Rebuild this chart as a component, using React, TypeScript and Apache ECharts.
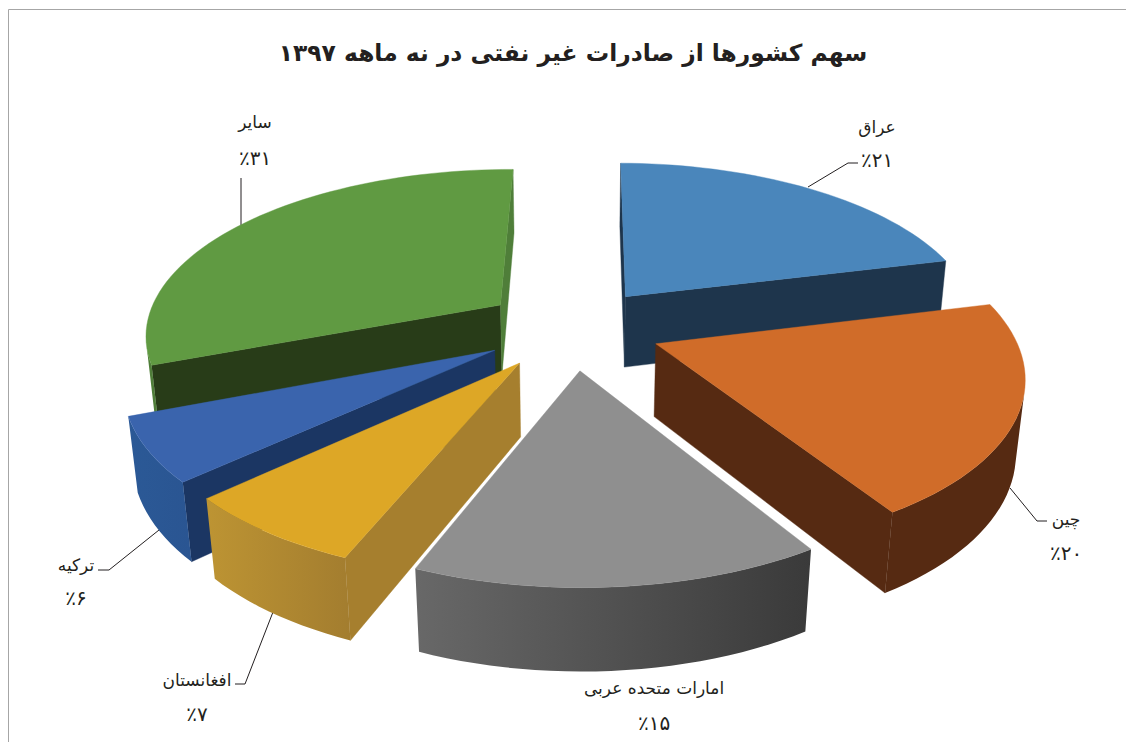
import React, { useEffect, useRef } from "react";
import * as echarts from "echarts";

const titleText = "سهم کشورها از صادرات غیر نفتی در نه ماهه ۱۳۹۷";
const categories = ["عراق", "چین", "امارات متحده عربی", "افغانستان", "ترکیه", "سایر"];
const shares = [21, 20, 15, 7, 6, 31];
const shareLabels = ["٪۲۱", "٪۲۰", "٪۱۵", "٪۷", "٪۶", "٪۳۱"];
const topColors = ["#4a86bb", "#d06c29", "#8f8f8f", "#dda726", "#3a64ad", "#609a42"];
const outerLeft = ["#1e354c", "#562a12", "#686868", "#bd9433", "#2b5996", "#4f7e39"];
const outerRight = ["#1e354c", "#562a12", "#3a3a3a", "#a37d2f", "#2a5592", "#4f7e39"];
const startWall = ["#1e354c", "#562a12", "#3a3a3a", "#a67f2e", "#1b3663", "#283c18"];
const endWall = ["#1e354c", "#562a12", "#3a3a3a", "#a67f2e", "#1b3663", "#4f7e39"];
const paintOrder = [5, 0, 4, 1, 3, 2];

// Projection settings of the tilted, exploded pie
const CX = 572;
const CY = 328;
const A = 356;
const B = 165;
const K = 0.165;
const C = 73.5;
const M = 0.02;
const EXPLODE = 0.25;
const ROTATE = (0.5 / 180) * Math.PI;

const labelPlace = [
  { x: 877, y: 127, y2: 160, line: [[808, 187], [848, 163], [858, 163]] },
  { x: 1066, y: 519, y2: 553, line: [[1010, 488], [1037, 521], [1047, 521]] },
  { x: 654, y: 688, y2: 723, line: null },
  { x: 197, y: 680, y2: 714, line: [[273, 612], [245, 684], [235, 684]] },
  { x: 76, y: 565, y2: 598, line: [[159, 530], [109, 570], [98, 570]] },
  { x: 255, y: 122, y2: 158, line: [[241, 178], [241, 225]] },
];
const FONT = "'DejaVu Sans'";

const cumulative = shares.map((_, i) => shares.slice(0, i).reduce((a, b) => a + b, 0));

function project(X: number, Y: number, z: number) {
  const w = 1 + K * Y + M * z;
  return [CX + (A * X) / w, CY + (-B * Y + C * z) / w];
}

function wallVisible(p: number[], q: number[], pb: number[]) {
  return (q[0] - p[0]) * (pb[1] - p[1]) - (q[1] - p[1]) * (pb[0] - p[0]) < 0;
}

function renderItem(_params: any, api: any) {
  const i = api.value(0) as number;
  const share = api.value(1) as number;
  const from = ((api.value(2) as number) / 100) * Math.PI * 2 + ROTATE;
  const sweep = (share / 100) * Math.PI * 2;
  const mid = from + sweep / 2;
  const ox = EXPLODE * Math.sin(mid);
  const oy = EXPLODE * Math.cos(mid);
  const steps = Math.max(6, Math.ceil(sweep / (Math.PI / 90)));
  const rimTop: number[][] = [];
  const rimBottom: number[][] = [];
  for (let s = 0; s <= steps; s++) {
    const a = from + (sweep * s) / steps;
    const X = ox + Math.sin(a);
    const Y = oy + Math.cos(a);
    rimTop.push(project(X, Y, 0));
    rimBottom.push(project(X, Y, 1));
  }
  const apexTop = project(ox, oy, 0);
  const apexBottom = project(ox, oy, 1);
  const children: any[] = [];
  const poly = (pts: number[][], fill: any, stroke: any) => ({
    type: "polygon",
    shape: { points: pts },
    style: { fill, stroke, lineWidth: 0.4 },
    silent: true,
  });
  if (wallVisible(apexTop, rimTop[0], apexBottom)) {
    children.push(poly([apexTop, rimTop[0], rimBottom[0], apexBottom], startWall[i], startWall[i]));
  }
  if (wallVisible(rimTop[steps], apexTop, rimBottom[steps])) {
    children.push(poly([rimTop[steps], apexTop, apexBottom, rimBottom[steps]], endWall[i], endWall[i]));
  }
  // outer wall: visible run of the rim as a single polygon with a horizontal gradient
  const upper: number[][] = [];
  const lower: number[][] = [];
  for (let s = 0; s < steps; s++) {
    if (!wallVisible(rimTop[s], rimTop[s + 1], rimBottom[s])) continue;
    if (!upper.length) {
      upper.push(rimTop[s]);
      lower.push(rimBottom[s]);
    }
    upper.push(rimTop[s + 1]);
    lower.push(rimBottom[s + 1]);
  }
  if (upper.length) {
    const grad = new echarts.graphic.LinearGradient(0, 0, 1, 0, [
      { offset: 0, color: outerLeft[i] },
      { offset: 1, color: outerRight[i] },
    ]);
    children.push(poly([...upper, ...lower.reverse()], grad, "none"));
  }
  children.push(poly([apexTop, ...rimTop], topColors[i], topColors[i]));
  return { type: "group", children };
}

function labelGraphics() {
  const out: any[] = [];
  categories.forEach((name, i) => {
    const p = labelPlace[i];
    const base = { fill: "#231f20", fontFamily: FONT, align: "center", verticalAlign: "middle" };
    out.push({ type: "text", x: p.x, y: p.y, style: { ...base, fontSize: 17, text: name } });
    out.push({ type: "text", x: p.x, y: p.y2, style: { ...base, fontSize: 20, text: shareLabels[i] } });
    if (p.line) {
      out.push({
        type: "polyline",
        shape: { points: p.line },
        style: { stroke: "#231f20", lineWidth: 1, fill: "none" },
      });
    }
  });
  out.push({ type: "line", shape: { x1: 8.5, y1: 9.5, x2: 1126, y2: 9.5 }, style: { stroke: "#a6a6a6", lineWidth: 1 } });
  out.push({ type: "line", shape: { x1: 8.5, y1: 9.5, x2: 8.5, y2: 742 }, style: { stroke: "#a6a6a6", lineWidth: 1 } });
  return out;
}

export default function App() {
  const ref = useRef<HTMLDivElement>(null);
  useEffect(() => {
    if (!ref.current) return;
    const chart = echarts.init(ref.current, undefined, { renderer: "svg" });
    chart.setOption({
      animation: false,
      backgroundColor: "#ffffff",
      title: {
        text: titleText,
        left: 568,
        top: 36,
        textAlign: "center",
        textStyle: { fontFamily: FONT, fontSize: 23.4, fontWeight: "bold", color: "#231f20" },
      },
      series: [
        {
          type: "custom",
          coordinateSystem: "none",
          renderItem,
          silent: true,
          clip: false,
          data: paintOrder.map((i) => ({ name: categories[i], value: [i, shares[i], cumulative[i]] })),
        },
      ],
      graphic: { elements: labelGraphics() },
    });
    return () => chart.dispose();
  }, []);
  return <div ref={ref} style={{ position: "absolute", left: 0, top: 0, width: 1126, height: 742 }} />;
}
